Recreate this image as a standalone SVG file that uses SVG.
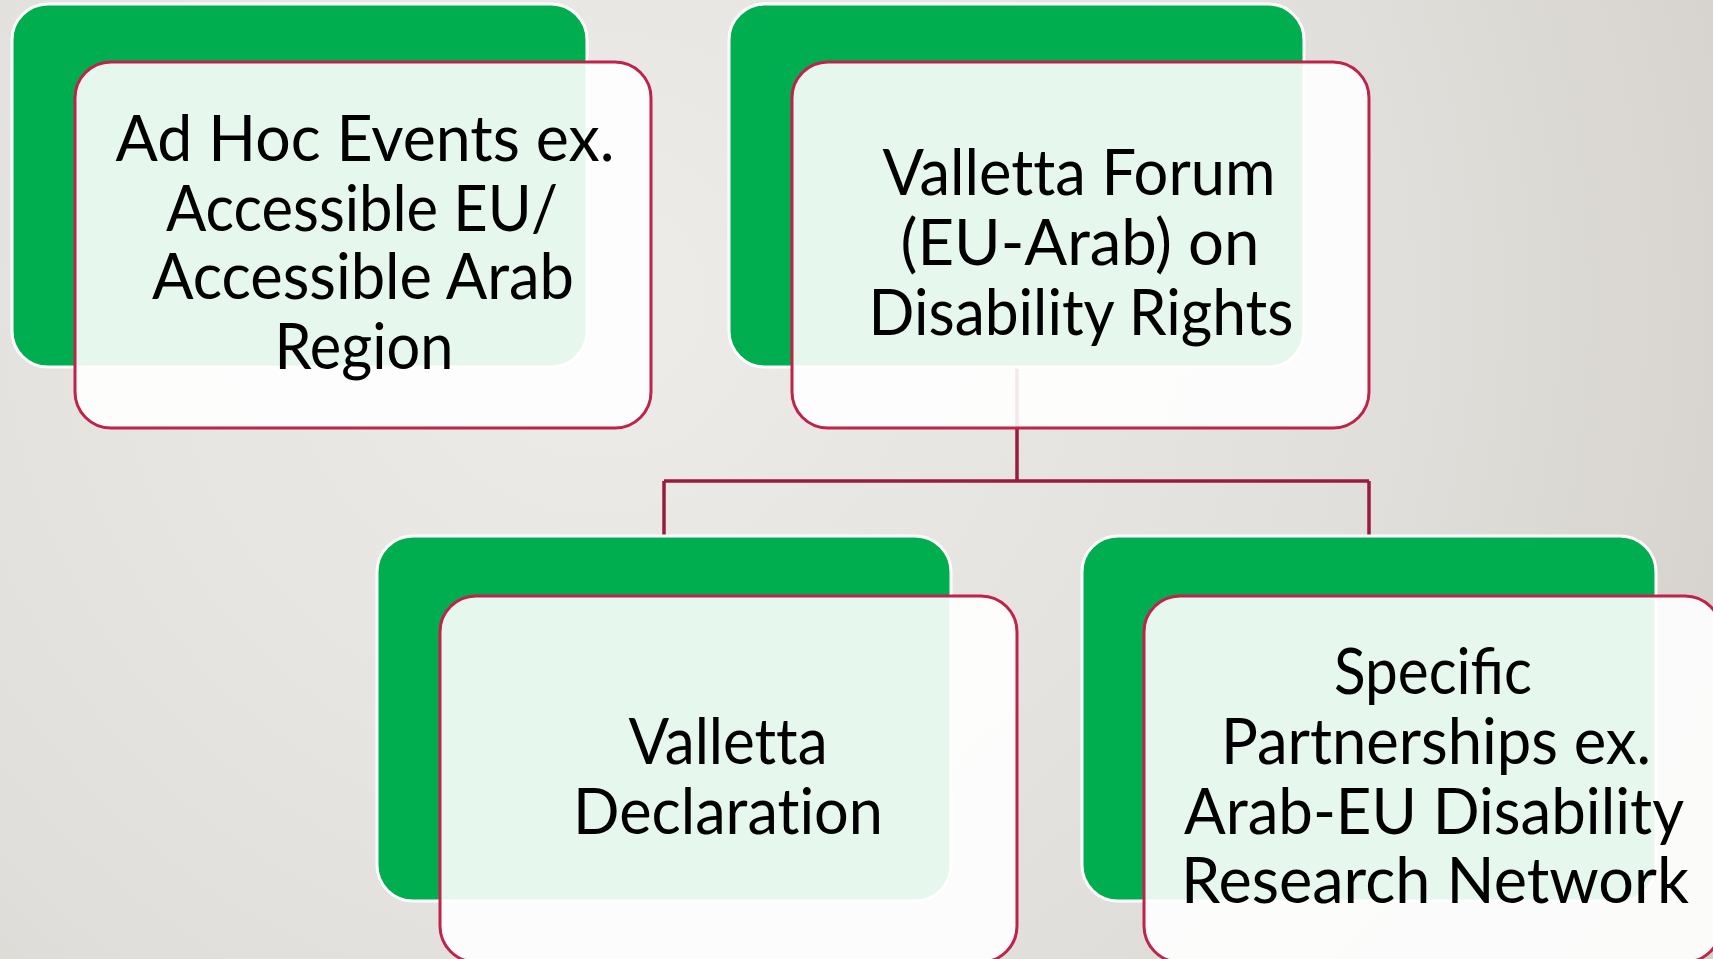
<svg xmlns="http://www.w3.org/2000/svg" width="1713" height="959" viewBox="0 0 1713 959">
<defs>
<radialGradient id="bg" cx="600" cy="300" r="1250" gradientUnits="userSpaceOnUse">
<stop offset="0" stop-color="#EEECE9"/>
<stop offset="0.6" stop-color="#E2E0DC"/>
<stop offset="1" stop-color="#D4D1CC"/>
</radialGradient>
<style>
.back{fill:#00AE50;stroke:#FFFFFF;stroke-width:3}
.card{fill:#FFFFFF;fill-opacity:0.9;stroke:#C0234A;stroke-width:3}
.conn{fill:none;stroke:#9A1B3D;stroke-width:3.5}
.lbl{font-family:"Lato","Open Sans","Liberation Sans",sans-serif;font-size:64px;fill:#000000;text-anchor:middle}
.nolig{font-variant-ligatures:none;font-feature-settings:"liga" 0,"clig" 0}
</style>
</defs>
<rect width="1713" height="959" fill="url(#bg)"/>
<g id="connectors">
<path class="conn" d="M1017,367 V481 M664,481 H1369 M664,481 V535 M1369,481 V535"/>
</g>
<g id="node-adhoc">
<rect class="back" x="12" y="4" width="575" height="363" rx="36"/>
<rect class="card" x="75" y="62" width="576" height="366" rx="36"/>
<text class="lbl" x="365" y="161" textLength="499" lengthAdjust="spacingAndGlyphs">Ad Hoc Events ex.</text>
<text class="lbl" x="362" y="231" textLength="392" lengthAdjust="spacingAndGlyphs">Accessible EU/</text>
<text class="lbl" x="363" y="299" textLength="422" lengthAdjust="spacingAndGlyphs">Accessible Arab</text>
<text class="lbl" x="364" y="369" textLength="179" lengthAdjust="spacingAndGlyphs">Region</text>
</g>
<g id="node-forum">
<rect class="back" x="729" y="4" width="575" height="363" rx="36"/>
<rect class="card" x="792" y="62" width="577" height="366" rx="36"/>
<text class="lbl nolig" x="1079" y="195" textLength="393" lengthAdjust="spacingAndGlyphs">Valletta Forum</text>
<text class="lbl" x="1080" y="265" textLength="359" lengthAdjust="spacingAndGlyphs">(EU-Arab) on</text>
<text class="lbl" x="1081" y="335" textLength="425" lengthAdjust="spacingAndGlyphs">Disability Rights</text>
</g>
<g id="node-declaration">
<rect class="back" x="377" y="536" width="574" height="365" rx="36"/>
<rect class="card" x="440" y="596" width="577" height="366" rx="36"/>
<text class="lbl nolig" x="728" y="764" textLength="199" lengthAdjust="spacingAndGlyphs">Valletta</text>
<text class="lbl nolig" x="728" y="834" textLength="310" lengthAdjust="spacingAndGlyphs">Declaration</text>
</g>
<g id="node-partnerships">
<rect class="back" x="1082" y="536" width="574" height="365" rx="36"/>
<rect class="card" x="1144" y="596" width="577" height="366" rx="36"/>
<text class="lbl" x="1433" y="694" textLength="198" lengthAdjust="spacingAndGlyphs">Specific</text>
<text class="lbl" x="1436" y="764" textLength="430" lengthAdjust="spacingAndGlyphs">Partnerships ex.</text>
<text class="lbl" x="1434" y="834" textLength="500" lengthAdjust="spacingAndGlyphs">Arab-EU Disability</text>
<text class="lbl" x="1435" y="903" textLength="508" lengthAdjust="spacingAndGlyphs">Research Network</text>
</g>
</svg>
